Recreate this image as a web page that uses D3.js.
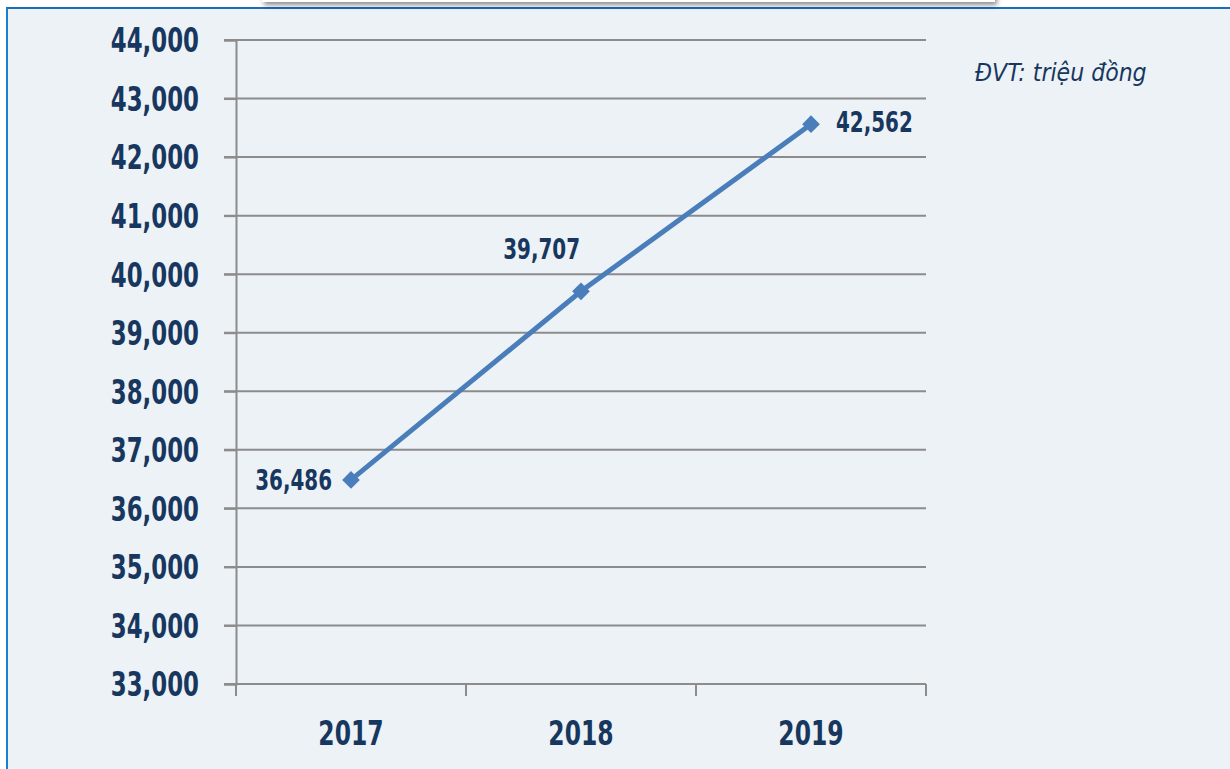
<!DOCTYPE html>
<html>
<head>
<meta charset="utf-8">
<script src="https://cdn.jsdelivr.net/npm/d3@7"></script>
<style>
  body { margin: 0; background: #fff; }
  #chart { position: relative; width: 1230px; height: 769px; overflow: hidden; }
  .panel { position: absolute; left: 6px; top: 7px; width: 1230px; height: 780px;
           background: #edf2f7; border-top: 2px solid #1b6db6; border-left: 2px solid #1b7fd0; box-sizing: border-box; }
  .titlebox { position: absolute; left: 262px; top: -40px; width: 733px; height: 42px;
              background: #fff; box-shadow: 2px 3px 5px rgba(0,0,0,0.45); }
  svg { position: absolute; left: 0; top: 0; }
  text { font-family: "Liberation Sans Narrow", "DejaVu Sans Condensed", sans-serif; fill: #17375e; }
</style>
</head>
<body>
<div id="chart">
  <div class="panel"></div>
  <div class="titlebox"></div>
</div>
<script>
const years = ["2017", "2018", "2019"];
const values = [36486, 39707, 42562];
const yTicks = [33000, 34000, 35000, 36000, 37000, 38000, 39000, 40000, 41000, 42000, 43000, 44000];
const unitLabel = "ĐVT: triệu đồng";

const width = 1230, height = 769;
const svg = d3.select("#chart").append("svg")
    .attr("width", width)
    .attr("height", height);

const x = d3.scaleBand().domain(years).range([236, 926]);
const y = d3.scaleLinear().domain([33000, 44000]).range([684, 40]);
const fmt = d3.format(",");

// the original uses a narrow bold face, squeeze the fallback font horizontally
function squeeze(sel, k) {
    sel.each(function() {
        const w = this.getComputedTextLength();
        d3.select(this).attr("textLength", w * k).attr("lengthAdjust", "spacingAndGlyphs");
    });
}

// gridlines
svg.append("g")
    .selectAll("line")
    .data(yTicks)
    .join("line")
    .attr("x1", 224).attr("x2", 926)
    .attr("y1", d => y(d)).attr("y2", d => y(d))
    .attr("stroke", "#8c8c8c").attr("stroke-width", 2);

// y axis
const yAxis = svg.append("g")
    .attr("transform", "translate(236,0)")
    .call(d3.axisLeft(y).tickValues(yTicks).tickFormat(fmt).tickSize(12).tickPadding(25));
yAxis.select(".domain").attr("stroke", "#8c8c8c").attr("stroke-width", 2);
yAxis.selectAll(".tick line").attr("stroke", "#8c8c8c").attr("stroke-width", 2);
yAxis.selectAll("text")
    .attr("font-size", 33).attr("font-weight", "bold")
    .attr("fill", "#17375e").attr("dy", "0.36em")
    .call(squeeze, 0.77);

// x axis
const xAxis = svg.append("g")
    .attr("transform", "translate(0,684)")
    .call(d3.axisBottom(x).tickSize(0).tickPadding(38));
xAxis.select(".domain").remove();
xAxis.selectAll("text")
    .attr("font-size", 33).attr("font-weight", "bold").attr("fill", "#17375e")
    .call(squeeze, 0.79);
// tick marks at band edges
svg.append("g")
    .selectAll("line")
    .data(years.map(d => x(d)).concat([x(years[years.length - 1]) + x.bandwidth()]))
    .join("line")
    .attr("x1", d => d).attr("x2", d => d)
    .attr("y1", 684).attr("y2", 696)
    .attr("stroke", "#8c8c8c").attr("stroke-width", 2);

const cx = d => x(d) + x.bandwidth() / 2;
const points = years.map((d, i) => ({ year: d, value: values[i] }));

// line
svg.append("path")
    .datum(points)
    .attr("fill", "none")
    .attr("stroke", "#4a7ebb")
    .attr("stroke-width", 5)
    .attr("d", d3.line().x(d => cx(d.year)).y(d => y(d.value)));

// markers
svg.append("g")
    .selectAll("path")
    .data(points)
    .join("path")
    .attr("transform", d => `translate(${cx(d.year)},${y(d.value)})`)
    .attr("d", d3.symbol(d3.symbolDiamond2, 200))
    .attr("fill", "#4a7ebb");

// data labels
const labelPos = [
    { dx: -19, dy: 0, anchor: "end" },
    { dx: -1, dy: -42, anchor: "end" },
    { dx: 25, dy: -2, anchor: "start" }
];
svg.append("g")
    .selectAll("text")
    .data(points)
    .join("text")
    .attr("x", (d, i) => cx(d.year) + labelPos[i].dx)
    .attr("y", (d, i) => y(d.value) + labelPos[i].dy)
    .attr("dy", "0.36em")
    .attr("text-anchor", (d, i) => labelPos[i].anchor)
    .attr("font-size", 28).attr("font-weight", "bold")
    .text(d => fmt(d.value))
    .call(squeeze, 0.79);

// unit
svg.append("text")
    .attr("x", 975).attr("y", 81)
    .attr("font-size", 25).attr("font-style", "italic")
    .attr("fill", "#1f3f6a")
    .text(unitLabel)
    .call(squeeze, 0.98);
</script>
</body>
</html>
